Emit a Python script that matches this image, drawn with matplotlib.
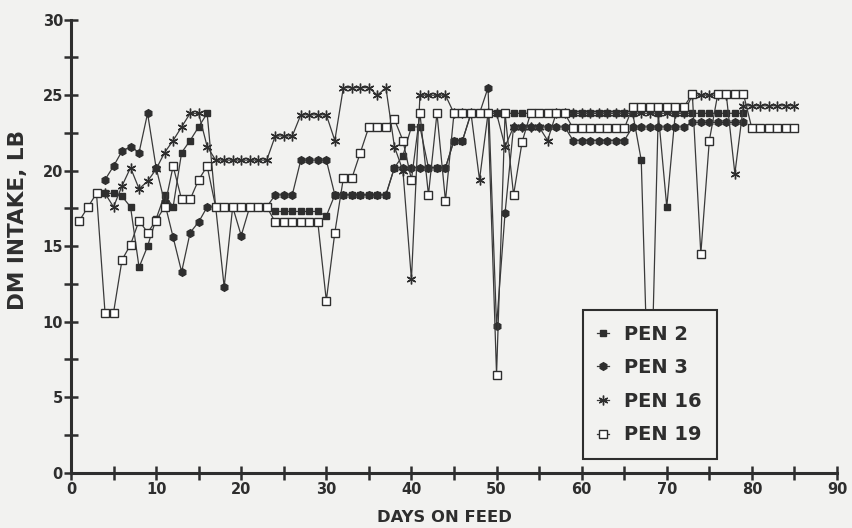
import numpy as np
import matplotlib
matplotlib.use('Agg')
import matplotlib.pyplot as plt
from matplotlib.ticker import MultipleLocator

nan = np.nan

# --- data (days 1..85) ---
days = list(range(1, 86))

pen2 = [nan, nan, nan, 18.5, 18.5, 18.3, 17.6, 13.6, 15.0, 16.8,
        18.4, 17.6, 21.2, 22.0, 22.9, 23.8, 17.6, 17.6, 17.6, 17.6,
        17.6, 17.6, 17.6, 17.3, 17.3, 17.3, 17.3, 17.3, 17.3, 17.0,
        18.4, 18.4, 18.4, 18.4, 18.4, 18.4, 18.4, 20.2, 21.0, 22.9,
        22.9, 20.2, 20.2, 20.2, 22.0, 22.0, 23.8, 23.8, 23.8, 23.8,
        23.8, 23.8, 23.8, 23.8, 23.8, 23.8, 23.8, 23.8, 23.8, 23.8,
        23.8, 23.8, 23.8, 23.8, 23.8, 23.8, 20.7, 1.5, 23.8, 17.6,
        23.8, 23.8, 23.8, 23.8, 23.8, 23.8, 23.8, 23.8, 23.8, nan,
        nan, nan, nan, nan, nan]

pen3 = [nan, nan, nan, 19.4, 20.3, 21.3, 21.6, 21.2, 23.8, 20.2,
        17.9, 15.6, 13.3, 15.9, 16.6, 17.6, 17.6, 12.3, 17.6, 15.7,
        17.6, 17.6, 17.6, 18.4, 18.4, 18.4, 20.7, 20.7, 20.7, 20.7,
        18.4, 18.4, 18.4, 18.4, 18.4, 18.4, 18.4, 20.2, 20.2, 20.2,
        20.2, 20.2, 20.2, 20.2, 22.0, 22.0, 23.8, 23.8, 25.5, 9.7,
        17.2, 22.9, 22.9, 22.9, 22.9, 22.9, 22.9, 22.9, 22.0, 22.0,
        22.0, 22.0, 22.0, 22.0, 22.0, 22.9, 22.9, 22.9, 22.9, 22.9,
        22.9, 22.9, 23.2, 23.2, 23.2, 23.2, 23.2, 23.2, 23.2, nan,
        nan, nan, nan, nan, nan]

pen16 = [nan, nan, nan, 18.5, 17.6, 19.0, 20.2, 18.8, 19.3, 20.1,
         21.2, 22.0, 22.9, 23.8, 23.8, 21.6, 20.7, 20.7, 20.7, 20.7,
         20.7, 20.7, 20.7, 22.3, 22.3, 22.3, 23.7, 23.7, 23.7, 23.7,
         22.0, 25.5, 25.5, 25.5, 25.5, 25.0, 25.5, 21.6, 20.0, 12.8,
         25.0, 25.0, 25.0, 25.0, 23.8, 23.8, 23.8, 19.4, 23.8, 23.8,
         21.6, 22.9, 22.9, 22.9, 22.9, 22.0, 23.8, 23.8, 23.8, 23.8,
         23.8, 23.8, 23.8, 23.8, 23.8, 23.8, 23.8, 23.8, 23.8, 23.8,
         23.8, 23.8, 25.0, 25.0, 25.0, 25.0, 25.0, 19.8, 24.3, 24.3,
         24.3, 24.3, 24.3, 24.3, 24.3]

pen19 = [16.7, 17.6, 18.5, 10.6, 10.6, 14.1, 15.1, 16.7, 15.9, 16.7,
         17.6, 20.3, 18.1, 18.1, 19.4, 20.3, 17.6, 17.6, 17.6, 17.6,
         17.6, 17.6, 17.6, 16.6, 16.6, 16.6, 16.6, 16.6, 16.6, 11.4,
         15.9, 19.5, 19.5, 21.2, 22.9, 22.9, 22.9, 23.4, 22.0, 19.4,
         23.8, 18.4, 23.8, 18.0, 23.8, 23.8, 23.8, 23.8, 23.8, 6.5,
         23.8, 18.4, 21.9, 23.8, 23.8, 23.8, 23.8, 23.8, 22.8, 22.8,
         22.8, 22.8, 22.8, 22.8, 22.8, 24.2, 24.2, 24.2, 24.2, 24.2,
         24.2, 24.2, 25.1, 14.5, 22.0, 25.1, 25.1, 25.1, 25.1, 22.8,
         22.8, 22.8, 22.8, 22.8, 22.8]

labels = ['PEN 2', 'PEN 3', 'PEN 16', 'PEN 19']

# --- style ---
bg = '#f2f2f0'
ink = '#2e2e2e'
plt.rcParams['font.family'] = ['DejaVu Sans']
plt.rcParams['font.weight'] = 'bold'

fig = plt.figure(figsize=(8.52, 5.28), dpi=100, facecolor=bg)
ax = fig.add_axes([0.0833, 0.1047, 0.8991, 0.858])
ax.set_facecolor(bg)

line_kw = dict(color='#3a3a3a', lw=0.9)
ax.plot(days, pen2, marker='s', ms=4.5, mfc=ink, mec=ink, label=labels[0], **line_kw)
ax.plot(days, pen3, marker='h', ms=5.5, mfc=ink, mec=ink, label=labels[1], **line_kw)
ax.plot(days, pen16, marker=(6, 2, 0), ms=7, mec=ink, mew=1.0, label=labels[2], **line_kw)
ax.plot(days, pen19, marker='s', ms=6, mfc='white', mec=ink, mew=1.0, label=labels[3], **line_kw)

ax.set_xlim(0, 90)
ax.set_ylim(0, 30)
ax.xaxis.set_major_locator(MultipleLocator(10))
ax.xaxis.set_minor_locator(MultipleLocator(5))
ax.yaxis.set_major_locator(MultipleLocator(5))
ax.yaxis.set_minor_locator(MultipleLocator(2.5))

for side in ['top', 'right']:
    ax.spines[side].set_visible(False)
for side in ['left', 'bottom']:
    ax.spines[side].set_linewidth(2.2)
    ax.spines[side].set_color(ink)

ax.tick_params(which='both', direction='inout', length=9.5, width=1.8,
               color=ink, labelcolor=ink, labelsize=10.5)
ax.tick_params(axis='x', pad=2)
ax.tick_params(axis='y', pad=1)

fig.text(0.021, 0.583, 'DM INTAKE, LB', rotation=90, ha='center', va='center',
         fontsize=15.5, fontweight='bold', color=ink)
fig.text(0.522, 0.019, 'DAYS ON FEED', ha='center', va='center',
         fontsize=11.8, fontweight='bold', color=ink)

leg = ax.legend(loc='upper left', bbox_to_anchor=(0.668, 0.359), borderaxespad=0,
                fancybox=False, edgecolor=ink, framealpha=1, facecolor=bg,
                prop={'size': 14, 'weight': 'bold'}, handlelength=0.6,
                handletextpad=0.8, labelspacing=0.75, borderpad=0.75)
leg.get_frame().set_linewidth(1.5)
for t in leg.get_texts():
    t.set_color(ink)

fig.savefig('out.png', dpi=100, facecolor=bg)
